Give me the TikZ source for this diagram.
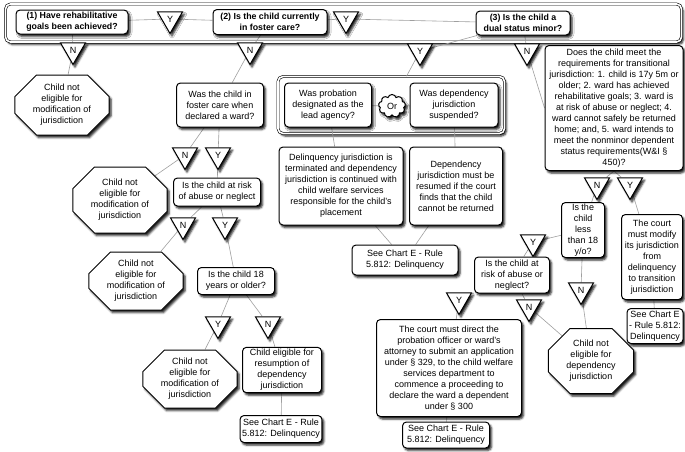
\documentclass[tikz,border=0pt]{standalone}
\usepackage{fontspec}
\setmainfont{Liberation Sans}
\usetikzlibrary{shapes.geometric,shapes.misc,shapes.symbols,shadows.blur,fit,backgrounds}
\tikzset{
  dropshade/.style={blur shadow={shadow xshift=2pt,shadow yshift=-2.5pt,shadow blur radius=2pt,shadow opacity=90}},
  qbox/.style={draw,line width=1pt,rounded corners=4pt,fill=white,dropshade,align=center,inner sep=2pt,font=\fontsize{9}{11}\selectfont},
  topbox/.style={qbox,font=\bfseries\fontsize{8.8}{11}\selectfont},
  stopbox/.style={chamfered rectangle,chamfered rectangle xsep=18pt,draw,line width=1pt,fill=white,dropshade,align=center,inner sep=0pt,font=\fontsize{9}{11}\selectfont},
  yesno/.style={regular polygon,regular polygon sides=3,shape border rotate=180,minimum size=29pt,inner sep=0pt,draw,line width=1pt,fill=white,dropshade,font=\fontsize{9}{10}\selectfont},
  link/.style={draw=gray!75,line width=0.6pt},
  framebox/.style={draw,double,double distance=1.6pt,line width=0.6pt,rounded corners=5pt,fill=white,dropshade}
}
\begin{document}
\begin{tikzpicture}[x=1pt,y=-1pt]
\useasboundingbox (0,0) rectangle (685,451);
% top row
\node[topbox,minimum width=112pt,minimum height=24pt] (q1) at (72,22) {(1) Have rehabilitative\\goals been achieved?};
\node[yesno] (y1) at (170,19) {Y};
\node[topbox,minimum width=114pt,minimum height=25pt] (q2) at (270,22) {(2) Is the child currently\\in foster care?};
\node[yesno] (y2) at (346,19) {Y};
\node[topbox,minimum width=94pt,minimum height=24pt] (q3) at (523,23) {(3) Is the child a\\dual status minor?};
\node[yesno] (n1) at (73,50) {N};
\node[yesno] (n2) at (250,50) {N};
\node[yesno] (yg) at (420,51) {Y};
\node[yesno] (nq3) at (527,51) {N};
% left branch
\node[stopbox,minimum width=75pt,minimum height=60pt] (stop1) at (62,105) {Child not\\eligible for\\modification of\\jurisdiction};
\node[qbox,minimum width=87pt,minimum height=44pt] (ward) at (220,105) {Was the child in\\foster care when\\declared a ward?};
\node[yesno] (n3) at (185,155) {N};
\node[yesno] (y3) at (218,155) {Y};
\node[stopbox,minimum width=75pt,minimum height=66pt] (stop2) at (120,200) {Child not\\eligible for\\modification of\\jurisdiction};
\node[qbox,minimum width=87pt,minimum height=28pt] (risk1) at (217,192) {Is the child at risk\\of abuse or neglect};
\node[yesno] (n4) at (183,225) {N};
\node[yesno] (y4) at (225,225) {Y};
\node[stopbox,minimum width=78pt,minimum height=58pt] (stop3) at (136,281) {Child not\\eligible for\\modification of\\jurisdiction};
\node[qbox,minimum width=77pt,minimum height=27pt] (age) at (236,281) {Is the child 18\\years or older?};
\node[yesno] (y5) at (218,324) {Y};
\node[yesno] (n5) at (268,324) {N};
\node[stopbox,minimum width=75pt,minimum height=58pt] (stop4) at (190,379) {Child not\\eligible for\\modification of\\jurisdiction};
\node[qbox,minimum width=79pt,minimum height=45pt] (elig) at (282,370) {Child eligible for\\resumption of\\dependency\\jurisdiction};
\node[qbox,minimum width=80pt,minimum height=27pt] (see1) at (281,429) {See Chart E - Rule\\5.812: Delinquency};
% dual status branch
\node[qbox,minimum width=87pt,minimum height=44pt] (prob) at (328,105) {Was probation\\designated as the\\lead agency?};
\node[cloud,cloud puffs=9,aspect=1.2,draw,line width=1pt,fill=white,dropshade,minimum width=27pt,minimum height=23pt,inner sep=0pt,font=\fontsize{9}{11}\selectfont] (orcl) at (392,106) {Or};
\node[qbox,minimum width=88pt,minimum height=44pt] (depq) at (454,105) {Was dependency\\jurisdiction\\suspended?};
\node[qbox,minimum width=124pt,minimum height=78pt] (delq) at (341,186) {Delinquency jurisdiction is\\terminated and dependency\\jurisdiction is continued with\\child welfare services\\responsible for the child's\\placement};
\node[qbox,minimum width=93pt,minimum height=78pt] (depr) at (456,186) {Dependency\\jurisdiction must be\\resumed if the court\\finds that the child\\cannot be returned};
\node[qbox,minimum width=106pt,minimum height=30pt] (see2) at (405,260) {See Chart E - Rule\\5.812: Delinquency};
% not dual status branch
\node[qbox,minimum width=138pt,minimum height=125pt] (bigq) at (614,108) {Does the child meet the\\requirements for transitional\\jurisdiction: 1. child is 17y 5m or\\older; 2. ward has achieved\\rehabilitative goals; 3. ward is\\at risk of abuse or neglect; 4.\\ward cannot safely be returned\\home; and, 5. ward intends to\\meet the nonminor dependent\\status requirements(W\&I §\\450)?};
\node[yesno] (n9) at (597,185) {N};
\node[yesno] (y9) at (630,185) {Y};
\node[qbox,minimum width=43pt,minimum height=55pt,inner sep=1pt] (less) at (583,230) {Is the\\child\\less\\than 18\\y/o?};
\node[qbox,minimum width=61pt,minimum height=85pt,inner sep=1pt] (courtm) at (652,257) {The court\\must modify\\its jurisdiction\\from\\delinquency\\to transition\\jurisdiction};
\node[qbox,minimum width=56pt,minimum height=35pt,inner sep=1pt] (see4) at (655,326) {See Chart E\\- Rule 5.812:\\Delinquency};
\node[yesno] (y6) at (533,242) {Y};
\node[yesno] (n8) at (581,290) {N};
\node[qbox,minimum width=75pt,minimum height=36pt] (risk2) at (512,275) {Is the child at\\risk of abuse or\\neglect?};
\node[yesno] (y7) at (459,300) {Y};
\node[yesno] (n7) at (529,307) {N};
\node[qbox,minimum width=145pt,minimum height=97pt] (courtd) at (449,368) {The court must direct the\\probation officer or ward's\\attorney to submit an application\\under § 329, to the child welfare\\services department to\\commence a proceeding to\\declare the ward a dependent\\under § 300};
\node[qbox,minimum width=87pt,minimum height=26pt] (see3) at (446,435) {See Chart E - Rule\\5.812: Delinquency};
\node[stopbox,minimum width=63pt,minimum height=65pt] (stop5) at (591,361) {Child not\\eligible for\\dependency\\jurisdiction};
% frames and connectors behind the boxes
\begin{scope}[on background layer]
\node[framebox,minimum width=676pt,minimum height=38pt] (topfr) at (343.5,23) {};
\node[framebox,fit=(prob)(orcl)(depq),inner sep=6pt] (grp) {};
\draw[link] (q1) -- (y1) -- (q2) -- (y2) -- (q3);
\draw[link] (q1) -- (n1) -- (stop1);
\draw[link] (q2) -- (n2) -- (ward);
\draw[link] (q3) -- (yg) -- (grp);
\draw[link] (q3) -- (nq3) -- (bigq.west);
\draw[link] (ward) -- (n3) -- (stop2);
\draw[link] (ward) -- (y3) -- (risk1);
\draw[link] (risk1) -- (n4) -- (stop3);
\draw[link] (risk1) -- (y4) -- (age);
\draw[link] (age) -- (y5) -- (stop4);
\draw[link] (age) -- (n5) -- (elig);
\draw[link] (elig) -- (see1);
\draw[link] (prob) -- (orcl) -- (depq);
\draw[link] (prob) -- (delq);
\draw[link] (depq) -- (depr);
\draw[link] (delq) -- (see2);
\draw[link] (depr) -- (see2);
\draw[link] (bigq.south) -- (n9) -- (less);
\draw[link] (bigq.south) -- (y9) -- (courtm);
\draw[link] (courtm) -- (see4);
\draw[link] (less) -- (y6) -- (risk2);
\draw[link] (less) -- (n8) -- (stop5);
\draw[link] (risk2) -- (y7) -- (courtd);
\draw[link] (risk2) -- (n7) -- (stop5);
\draw[link] (courtd) -- (see3);
\end{scope}
\end{tikzpicture}
\end{document}
